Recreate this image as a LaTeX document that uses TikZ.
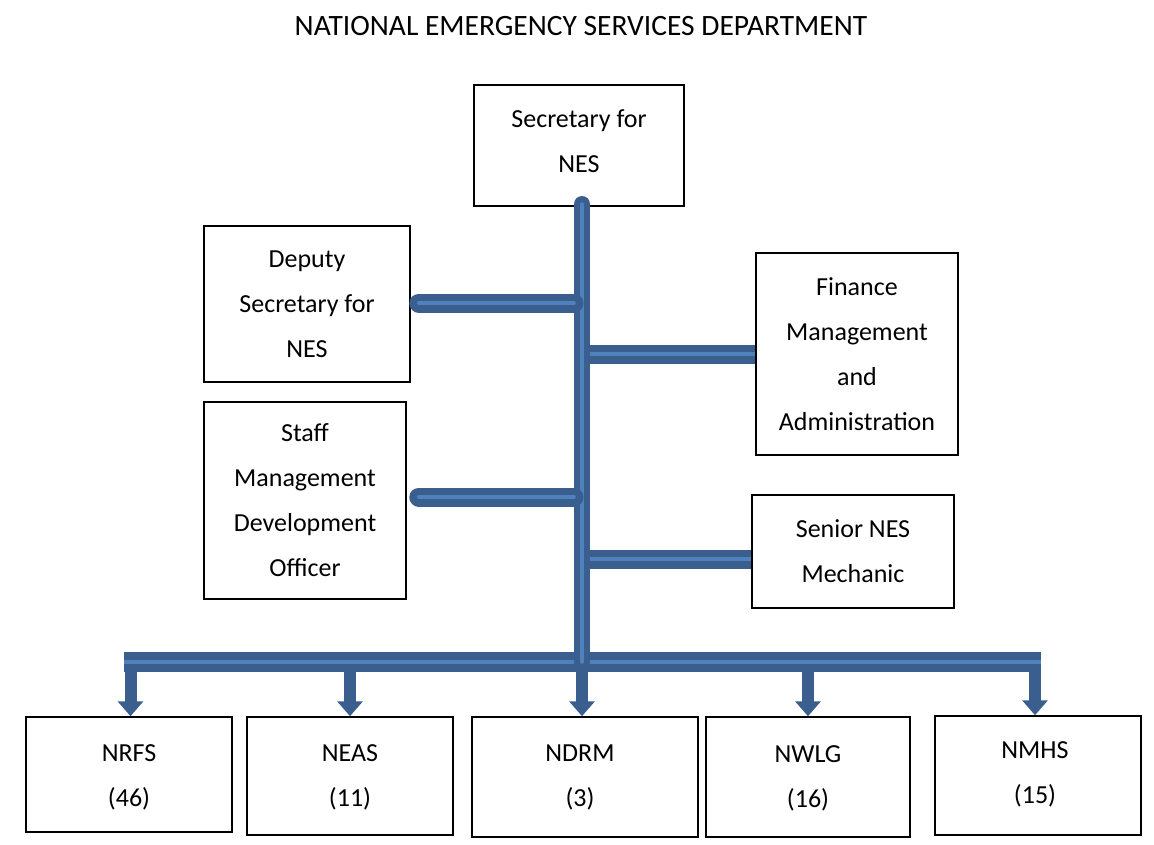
\documentclass[tikz,border=0pt]{standalone}
\usepackage{fontspec}
\setmainfont{Carlito}
\usetikzlibrary{arrows.meta}
\definecolor{pipeDark}{HTML}{3A5F8E}
\definecolor{pipeLight}{HTML}{4F81BD}
\tikzset{
  box/.style={draw=black, line width=1.5pt, inner sep=0pt, align=center,
    font=\fontsize{26}{45}\selectfont},
  txt/.style={inner sep=0pt, align=center, font=\fontsize{26}{45}\selectfont},
  pipe/.style={draw=pipeDark, line width=#1, postaction={draw=pipeLight, line width=3.5pt}},
  pipe/.default=19pt,
  shaft/.style={draw=pipeDark, line width=12pt, -{Triangle[width=25pt,length=15pt]}},
}
\begin{document}
\begin{tikzpicture}[x=1pt,y=-1pt]
\path[use as bounding box] (0,0) rectangle (1154,844);
\node[anchor=base, font=\fontsize{29.5}{34}\selectfont] (title) at (581,35) {NATIONAL EMERGENCY SERVICES DEPARTMENT};

\node[box, minimum width=210pt, minimum height=121pt] (sec) at (579,145.5) {};
\node[txt] (sectext) at (579,141) {Secretary for\\NES};
\node[box, minimum width=206pt, minimum height=156pt] (dep) at (307,304) {Deputy\\Secretary for\\NES};
\node[box, minimum width=202pt, minimum height=202pt] (fin) at (857,354) {Finance\\Management\\and\\Administration};
\node[box, minimum width=202pt, minimum height=197pt] (staff) at (305,500.5) {Staff\\Management\\Development\\Officer};
\node[box, minimum width=202pt, minimum height=113pt] (sen) at (853,551.5) {Senior NES\\Mechanic};

\node[box, minimum width=206pt, minimum height=115pt] (nrfs) at (129,774.5) {};
\node[txt] at (129,777) {NRFS\\(46)};
\node[box, minimum width=206pt, minimum height=118pt] (neas) at (350,776) {};
\node[txt] at (350,777) {NEAS\\(11)};
\node[box, minimum width=226pt, minimum height=120pt] (ndrm) at (585,777) {};
\node[txt] at (580,777) {NDRM\\(3)};
\node[box, minimum width=204pt, minimum height=120pt] (nwlg) at (808,777) {};
\node[txt] at (808,778) {NWLG\\(16)};
\node[box, minimum width=206pt, minimum height=119pt] (nmhs) at (1038,775.5) {};
\node[txt] at (1035,774) {NMHS\\(15)};

\coordinate (top) at (582,204);
\coordinate (jdep) at (582,303);
\coordinate (jfin) at (582,354);
\coordinate (jstaff) at (582,497);
\coordinate (jsen) at (582,559);
\coordinate (bus) at (582,662);
\coordinate (busL) at (124,662);
\coordinate (busR) at (1041,662);
\coordinate (r) at ([xshift=-6pt]busR |- nmhs.north);

% down arrows
\draw[shaft] ([xshift=1.5pt]nrfs.north |- bus) -- ([xshift=1.5pt]nrfs.north);
\draw[shaft] (neas.north |- bus) -- (neas.north);
\draw[shaft] (bus) -- (ndrm.north -| bus);
\draw[shaft] (nwlg.north |- bus) -- (nwlg.north);
\draw[shaft] (r |- bus) -- (r);

% bus
\draw[pipe=20pt] (busL) -- (busR);
% trunk
\draw[pipe=16pt, line cap=round] (top) -- (bus);
% branches
\draw[pipe=19pt, line cap=round] ([xshift=8pt]dep.east |- jdep) -- ([xshift=-8pt]jdep);
\draw[pipe=19pt] ([xshift=8pt]jfin) -- (fin.west |- jfin);
\draw[pipe=19pt, line cap=round] ([xshift=12pt]staff.east |- jstaff) -- ([xshift=-8pt]jstaff);
\draw[pipe=19pt] ([xshift=8pt]jsen) -- (sen.west |- jsen);
\end{tikzpicture}
\end{document}
